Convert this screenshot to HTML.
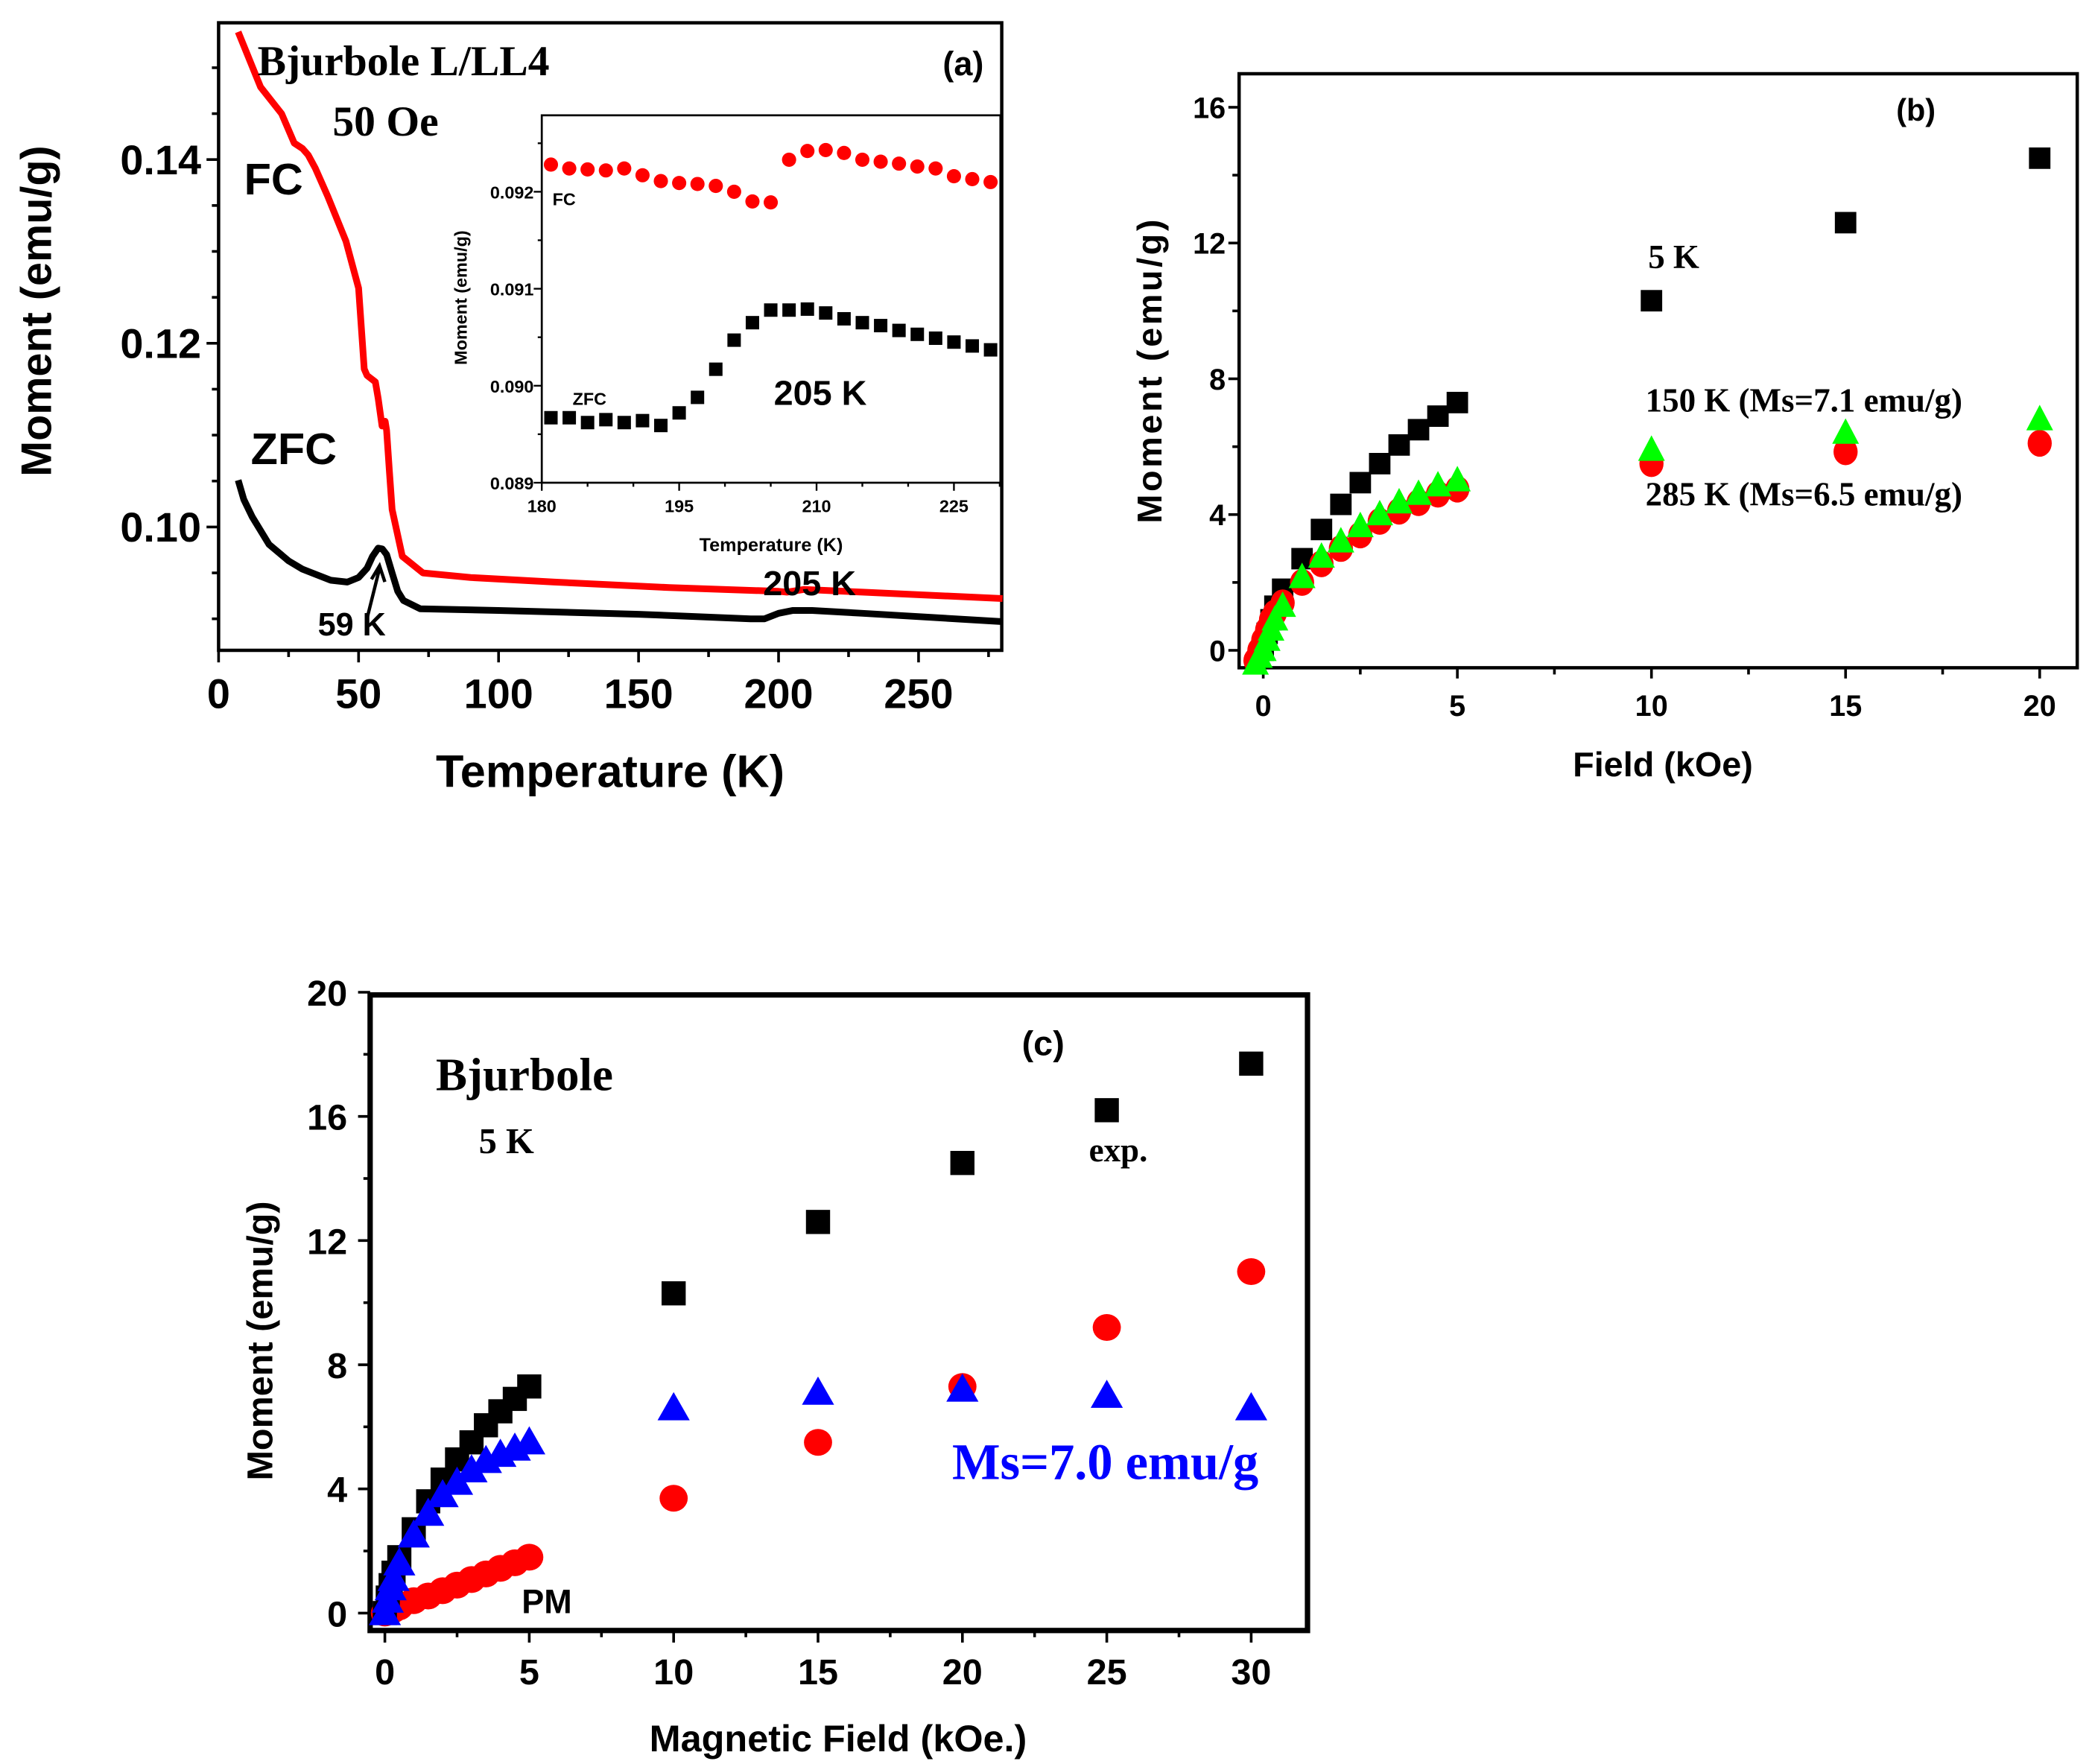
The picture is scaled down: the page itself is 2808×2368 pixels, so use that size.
<!DOCTYPE html>
<html><head><meta charset="utf-8"><style>
html,body{margin:0;padding:0;background:#fff}
svg{display:block}
text{font-family:"Liberation Sans",sans-serif;font-weight:bold}
.serif{font-family:"Liberation Serif",serif}
</style></head><body>
<svg id="fig" xmlns="http://www.w3.org/2000/svg" width="2808" height="2368" viewBox="0 0 1560 1315.56">
<rect x="0" y="0" width="1560" height="1316" fill="#fff"/>
<g id="gA"></g>
<g id="gI"></g>
<g id="gB"></g>
<g id="gC"></g>
</svg>
<script>
// ---------- Panel (a) data ----------
const fcT = [7,15,22.5,27,30,32,34.5,39,45.5,50,52,53,56,57,58.4,59.5,60,61,62,65.6,73,90,120,161,200,203,209,230,280];
const fcM = [0.1539,0.1479,0.145,0.1418,0.1412,0.1405,0.1391,0.136,0.1311,0.126,0.1172,0.1165,0.1158,0.1140,0.111,0.1115,0.1105,0.1060,0.1019,0.0968,0.0950,0.0945,0.0940,0.0934,0.0930,0.0929,0.0932,0.0929,0.0922];
const zfcT = [7,9,12,18,25,30,40,46,50,53,55,57,58.5,60,62,64,66,72,100,150,190,195,200,205,212,230,280];
const zfcM = [0.1051,0.1030,0.1011,0.0981,0.0963,0.0954,0.0942,0.0940,0.0945,0.0955,0.0968,0.0977,0.0976,0.0970,0.0950,0.0930,0.0920,0.0911,0.0909,0.0905,0.0900,0.0900,0.0906,0.0909,0.0909,0.0906,0.0897];
const aXTicks = [0,50,100,150,200,250];
const aYTicks = [0.10,0.12,0.14];
// ---------- Inset data ----------
const inFcT = [181,183,185,187,189,191,193,195,197,199,201,203,205,207,209,211,213,215,217,219,221,223,225,227,229];
const inFcM = [0.09228,0.09224,0.09223,0.09222,0.09224,0.09217,0.09211,0.09209,0.09208,0.09206,0.09200,0.09190,0.09189,0.09233,0.09242,0.09243,0.09240,0.09233,0.09231,0.09229,0.09226,0.09224,0.09216,0.09213,0.09210];
const inZT = [181,183,185,187,189,191,193,195,197,199,201,203,205,207,209,211,213,215,217,219,221,223,225,227,229];
const inZM = [0.08967,0.08967,0.08962,0.08965,0.08962,0.08964,0.08959,0.08972,0.08988,0.09017,0.09047,0.09065,0.09078,0.09078,0.09079,0.09075,0.09069,0.09065,0.09062,0.09057,0.09053,0.09049,0.09045,0.09041,0.09037];
const inXTicks = [180,195,210,225];
const inYTicks = [0.089,0.090,0.091,0.092];
// ---------- Panel (b) data ----------
const bH5 = [0,0.1,0.2,0.3,0.5,1,1.5,2,2.5,3,3.5,4,4.5,5,10,15,20];
const bM5 = [0,0.5,0.9,1.3,1.8,2.7,3.56,4.3,4.94,5.5,6.05,6.5,6.9,7.3,10.3,12.6,14.5];
const bH285 = [-0.2,-0.1,0,0.1,0.2,0.3,0.5,1,1.5,2,2.5,3,3.5,4,4.5,5,10,15,20];
const bM285 = [-0.3,0,0.3,0.6,0.9,1.1,1.4,2.0,2.55,3.0,3.4,3.8,4.1,4.35,4.6,4.75,5.5,5.85,6.1];
const bH150 = [-0.2,-0.1,0,0.1,0.2,0.3,0.5,1,1.5,2,2.5,3,3.5,4,4.5,5,10,15,20];
const bM150 = [-0.4,-0.2,0,0.3,0.6,0.9,1.3,2.15,2.75,3.2,3.65,4.0,4.35,4.6,4.85,5.0,5.9,6.4,6.8];
const bXTicks = [0,5,10,15,20];
const bYTicks = [0,4,8,12,16];
// ---------- Panel (c) data ----------
const cH = [0,0.1,0.2,0.3,0.5,1,1.5,2,2.5,3,3.5,4,4.5,5,10,15,20,25,30];
const cExp = [0,0.5,0.9,1.3,1.8,2.7,3.6,4.3,4.95,5.5,6.05,6.5,6.9,7.3,10.3,12.6,14.5,16.2,17.7];
const cFit = [0,0.4,0.8,1.1,1.6,2.5,3.2,3.8,4.2,4.6,4.9,5.1,5.3,5.5,6.6,7.1,7.2,7.0,6.6];
const cPM = [0,0.04,0.07,0.11,0.2,0.4,0.55,0.72,0.9,1.08,1.26,1.44,1.62,1.8,3.7,5.5,7.3,9.2,11.0];
const cXTicks = [0,5,10,15,20,25,30];
const cYTicks = [0,4,8,12,16,20];

const NS = "http://www.w3.org/2000/svg";
function mk(parent, tag, attrs, txt){
  const e = document.createElementNS(NS, tag);
  for (const k in attrs) e.setAttribute(k, attrs[k]);
  if (txt !== undefined) e.textContent = txt;
  parent.appendChild(e);
  return e;
}
function lin(d0,d1,r0,r1){ return v => r0 + (v-d0)*(r1-r0)/(d1-d0); }

// ===== Panel A =====
const gA = document.getElementById('gA');
const ax = lin(0,280,163,747.6), ay = lin(0.10,0.14,393,119);
let e;
e = mk(gA,'rect',{x:163,y:17,width:584,height:468,fill:'none',stroke:'#000','stroke-width':2.5});
 
for (let v=0; v<=280; v+=25){ const major = v%50===0; mk(gA,'line',{x1:ax(v),x2:ax(v),y1:485,y2:485+(major?9:5),stroke:'#000','stroke-width':2}); }
aXTicks.forEach(v=>{ e=mk(gA,'text',{x:ax(v),y:528,'font-size':31,'text-anchor':'middle'},String(v));
    });
for (let v=0.09; v<=0.155; v+=0.005){ const major = Math.abs((v*100)%2)<0.01||Math.abs((v*100)%2-2)<0.01; mk(gA,'line',{x1:163,x2:163-(major?9:5),y1:ay(v),y2:ay(v),stroke:'#000','stroke-width':2}); }
aYTicks.forEach(v=>{ e=mk(gA,'text',{x:150,y:ay(v)+11,'font-size':31,'text-anchor':'end'},v.toFixed(2));
    });
e=mk(gA,'text',{x:455,y:587,'font-size':34,'text-anchor':'middle'},'Temperature (K)');
 
e=mk(gA,'text',{x:0,y:0,'font-size':32,'text-anchor':'middle',transform:'translate(38,232) rotate(-90)'},'Moment (emu/g)');
 
e=mk(gA,'path',{d:fcT.map((t,i)=>(i?'L':'M')+ax(t).toFixed(1)+' '+ay(fcM[i]).toFixed(1)).join(''),fill:'none',stroke:'#f00','stroke-width':5,'stroke-linejoin':'round'});
 
e=mk(gA,'path',{d:zfcT.map((t,i)=>(i?'L':'M')+ax(t).toFixed(1)+' '+ay(zfcM[i]).toFixed(1)).join(''),fill:'none',stroke:'#000','stroke-width':5,'stroke-linejoin':'round'});
 
e=mk(gA,'text',{x:192,y:56,'font-size':32,class:'serif'},'Bjurbole L/LL4');  
e=mk(gA,'text',{x:248,y:101,'font-size':32,class:'serif'},'50 Oe');  
e=mk(gA,'text',{x:703,y:56,'font-size':25},'(a)');  
e=mk(gA,'text',{x:182,y:145,'font-size':33},'FC');  
e=mk(gA,'text',{x:187,y:346,'font-size':33},'ZFC');  
e=mk(gA,'text',{x:237,y:474,'font-size':24},'59 K');  
e=mk(gA,'path',{d:'M274 460 L283 424 M277 432 L283 422 L287 434',fill:'none',stroke:'#000','stroke-width':2.5});  
e=mk(gA,'text',{x:569,y:444,'font-size':26},'205 K');  

// ===== Inset =====
const gI = document.getElementById('gI');
const ix = lin(180,230,404,745.5), iy = lin(0.089,0.092,360,143);
e=mk(gI,'rect',{x:404,y:86,width:342,height:274,fill:'#fff',stroke:'#000','stroke-width':1.5});  
for (let v=180; v<=230; v+=5){ mk(gI,'line',{x1:ix(v),x2:ix(v),y1:360,y2:360+(v%15===0?6:3),stroke:'#000','stroke-width':1.3}); }
inXTicks.forEach(v=>{ e=mk(gI,'text',{x:ix(v),y:382,'font-size':13,'text-anchor':'middle'},String(v));   });
for (let k=0; k<8; k++){ const v=0.089+k*0.0005; mk(gI,'line',{x1:404,x2:404-(k%2===0?6:3),y1:iy(v),y2:iy(v),stroke:'#000','stroke-width':1.3}); }
inYTicks.forEach(v=>{ e=mk(gI,'text',{x:398,y:iy(v)+5,'font-size':13,'text-anchor':'end'},v.toFixed(3));   });
e=mk(gI,'text',{x:575,y:411,'font-size':14,'text-anchor':'middle'},'Temperature (K)');  
e=mk(gI,'text',{x:0,y:0,'font-size':13,'text-anchor':'middle',transform:'translate(348,222) rotate(-90)'},'Moment (emu/g)');  
inFcT.forEach((t,i)=>{ e=mk(gI,'circle',{cx:ix(t),cy:iy(inFcM[i]),r:5.3,fill:'#f00'});   });
inZT.forEach((t,i)=>{ e=mk(gI,'rect',{x:ix(t)-5,y:iy(inZM[i])-5,width:10,height:10,fill:'#000'});   });
e=mk(gI,'text',{x:412,y:153,'font-size':13},'FC');  
e=mk(gI,'text',{x:427,y:302,'font-size':13},'ZFC');  
e=mk(gI,'text',{x:577,y:302,'font-size':26},'205 K');  

// ===== Panel B =====
const gB = document.getElementById('gB');
const bx = lin(0,20,942,1521), by = lin(0,16,485,80);
e=mk(gB,'rect',{x:924,y:55,width:625,height:443,fill:'none',stroke:'#000','stroke-width':2.5});  
for (let v=0; v<=20; v+=2.5){ mk(gB,'line',{x1:bx(v),x2:bx(v),y1:498,y2:498+(v%5===0?8:5),stroke:'#000','stroke-width':2}); }
bXTicks.forEach(v=>{ e=mk(gB,'text',{x:bx(v),y:534,'font-size':22,'text-anchor':'middle'},String(v));   });
for (let v=0; v<=16; v+=2){ mk(gB,'line',{x1:924,x2:924-(v%4===0?8:5),y1:by(v),y2:by(v),stroke:'#000','stroke-width':2}); }
bYTicks.forEach(v=>{ e=mk(gB,'text',{x:914,y:by(v)+8,'font-size':22,'text-anchor':'end'},String(v));   });
e=mk(gB,'text',{x:1240,y:579,'font-size':26,'text-anchor':'middle'},'Field (kOe)');  
e=mk(gB,'text',{x:0,y:0,'font-size':26,'text-anchor':'middle','letter-spacing':2,transform:'translate(866,276) rotate(-90)'},'Moment (emu/g)');  
bH5.forEach((h,i)=>{ e=mk(gB,'rect',{x:bx(h)-8,y:by(bM5[i])-8,width:16,height:16,fill:'#000'});   });
bH285.forEach((h,i)=>{ e=mk(gB,'ellipse',{cx:bx(h),cy:by(bM285[i]),rx:9,ry:10,fill:'#f00'});   });
bH150.forEach((h,i)=>{ const x=bx(h), y=by(bM150[i]); e=mk(gB,'polygon',{points:`${x},${y-11} ${x-10},${y+8} ${x+10},${y+8}`,fill:'#0f0'});   });
e=mk(gB,'text',{x:1414,y:90,'font-size':23},'(b)');  
e=mk(gB,'text',{x:1229,y:200,'font-size':25,class:'serif'},'5 K');  
e=mk(gB,'text',{x:1227,y:307,'font-size':25,class:'serif'},'150 K (Ms=7.1 emu/g)');  
e=mk(gB,'text',{x:1227,y:377,'font-size':25,class:'serif'},'285 K (Ms=6.5 emu/g)');  

// ===== Panel C =====
const gC = document.getElementById('gC');
const cx = lin(0,30,287,933), cy = lin(0,20,1203,740);
e=mk(gC,'rect',{x:276,y:742,width:699,height:474,fill:'none',stroke:'#000','stroke-width':4});  
for (let v=0; v<=30; v+=2.5){ mk(gC,'line',{x1:cx(v),x2:cx(v),y1:1216,y2:1216+(v%5===0?9:5),stroke:'#000','stroke-width':2}); }
cXTicks.forEach(v=>{ e=mk(gC,'text',{x:cx(v),y:1256,'font-size':27,'text-anchor':'middle'},String(v));   });
for (let v=0; v<=20; v+=2){ mk(gC,'line',{x1:276,x2:276-(v%4===0?9:5),y1:cy(v),y2:cy(v),stroke:'#000','stroke-width':2}); }
cYTicks.forEach(v=>{ e=mk(gC,'text',{x:259,y:cy(v)+10,'font-size':27,'text-anchor':'end'},String(v));   });
e=mk(gC,'text',{x:625,y:1306,'font-size':28,'text-anchor':'middle'},'Magnetic Field (kOe.)');  
e=mk(gC,'text',{x:0,y:0,'font-size':27,'text-anchor':'middle',transform:'translate(203,1000) rotate(-90)'},'Moment (emu/g)');  
cH.forEach((h,i)=>{ e=mk(gC,'ellipse',{cx:cx(h),cy:cy(cPM[i]),rx:10.5,ry:10,fill:'#f00'});   });
cH.forEach((h,i)=>{ e=mk(gC,'rect',{x:cx(h)-9,y:cy(cExp[i])-9,width:18,height:18,fill:'#000'});   });
cH.forEach((h,i)=>{ const x=cx(h), y=cy(cFit[i]); e=mk(gC,'polygon',{points:`${x},${y-12} ${x-12},${y+9} ${x+12},${y+9}`,fill:'#00f'});   });
e=mk(gC,'text',{x:762,y:787,'font-size':26},'(c)');  
e=mk(gC,'text',{x:325,y:813,'font-size':35,class:'serif'},'Bjurbole');  
e=mk(gC,'text',{x:357,y:860,'font-size':27,class:'serif'},'5 K');  
e=mk(gC,'text',{x:812,y:866,'font-size':25,class:'serif'},'exp.');  
e=mk(gC,'text',{x:710,y:1103,'font-size':38,class:'serif',fill:'#00f'},'Ms=7.0 emu/g');  
e=mk(gC,'text',{x:389,y:1203,'font-size':25},'PM');  
</script>
</body></html>
